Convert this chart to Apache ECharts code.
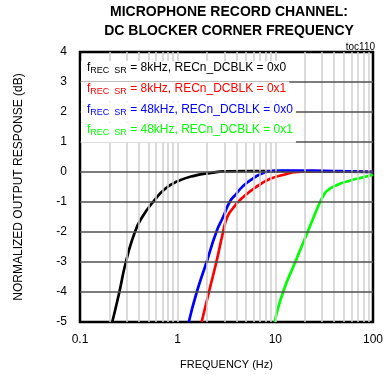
<!DOCTYPE html>
<html>
<head>
<meta charset="utf-8">
<script src="https://cdn.jsdelivr.net/npm/echarts@6/dist/echarts.min.js"></script>
<style>
html,body{margin:0;padding:0;background:#fff;}
#chart{width:386px;height:375px;}
</style>
</head>
<body>
<div id="chart"></div>
<script>
// ---- data ----
var seriesColors = ['#000000', '#ff0000', '#0000ff', '#00ff00'];
var sampleRates = ['8kHz', '8kHz', '48kHz', '48kHz'];
var dcblkValues = ['0x0', '0x1', '0x0', '0x1'];

var black8k0 = [[0.214,-5],[0.253,-4],[0.295,-3],[0.365,-2],[0.434,-1.5],[0.56,-1.0],[0.75,-0.55],[1.0,-0.31],[1.5,-0.12],[2.2,-0.03],[3.0,0.02],[5,0.03],[10,0.03],[30,0.02],[100,0]];
var red8k1 = [[1.76,-5],[2.09,-4],[2.49,-3],[2.92,-2],[3.22,-1.5],[3.7,-1.2],[4.3,-0.95],[5.0,-0.76],[5.63,-0.62],[7.1,-0.4],[9,-0.22],[12.2,-0.09],[16.7,0],[25,0.03],[50,0.02],[100,0]];
var blue48k0 = [[1.30,-5],[1.57,-4],[1.98,-3],[2.49,-2],[2.92,-1.5],[3.41,-1.0],[3.9,-0.76],[4.64,-0.48],[5.63,-0.26],[7.1,-0.07],[9,0.03],[12,0.05],[30,0.04],[60,0.02],[100,0]];
var green48k1 = [[9.85,-5],[12.0,-4],[16.0,-3],[21.4,-2],[28.7,-1],[31,-0.8],[33.5,-0.64],[42.3,-0.44],[57.7,-0.29],[78.7,-0.18],[100,-0.09]];
var seriesData = [black8k0, red8k1, blue48k0, green48k1];

var xMin = 0.1, xMax = 100;
var yMin = -5, yMax = 4, yStep = 1;
var xMinorGrid = [0.2,0.3,0.4,0.5,0.6,0.7,0.8,0.9,1,2,3,4,5,6,7,8,9,10,20,30,40,50,60,70,80,90];
var yGrid = [-4,-3,-2,-1,0,1,2,3];

var titleText = 'MICROPHONE RECORD CHANNEL:\nDC BLOCKER CORNER FREQUENCY';
var xName = 'FREQUENCY (Hz)';
var yName = 'NORMALIZED OUTPUT RESPONSE (dB)';
var tocLabel = 'toc110';

// ---- chart ----
var FONT = '"Liberation Sans", Arial, sans-serif';
var names = sampleRates.map(function (r, i) {
  return 'fREC SR = ' + r + ', RECn_DCBLK = ' + dcblkValues[i];
});

var series = [
  {
    type: 'line', name: 'vgrid', data: [], silent: true, z: 1,
    markLine: {
      silent: true, symbol: ['none', 'none'], animation: false,
      label: { show: false },
      lineStyle: { color: '#cfcfcf', width: 1.5, type: 'solid' },
      emphasis: { disabled: true },
      data: xMinorGrid.map(function (v) { return { xAxis: v }; })
    }
  },
  {
    type: 'line', name: 'hgrid', data: [], silent: true, z: 1,
    markLine: {
      silent: true, symbol: ['none', 'none'], animation: false,
      label: { show: false },
      lineStyle: { color: '#505050', width: 1.5, type: 'solid' },
      emphasis: { disabled: true },
      data: yGrid.map(function (v) { return { yAxis: v }; })
    }
  }
];
seriesData.forEach(function (d, i) {
  series.push({
    type: 'line', name: names[i], data: d, smooth: 0.55,
    showSymbol: false, symbol: 'none', z: 3,
    lineStyle: { color: seriesColors[i], width: 2.7 },
    itemStyle: { color: seriesColors[i] },
    emphasis: { disabled: true }
  });
});

var legendGraphics = names.map(function (n, i) {
  var rich = {
    m: { fill: seriesColors[i], fontSize: 12, fontFamily: FONT, lineHeight: 14 },
    s: { fill: seriesColors[i], fontSize: 9, fontFamily: FONT, lineHeight: 14, height: 8, verticalAlign: 'bottom' }
  };
  return {
    type: 'text', x: 81, y: 61 + 20.6 * i, z: 10,
    style: {
      text: '{m|f}{s|REC  SR}{m| = ' + sampleRates[i] + ', RECn_DCBLK = ' + dcblkValues[i] + '}',
      rich: rich, fill: seriesColors[i],
      backgroundColor: '#ffffff', padding: [0, 3, 6, 6],
      align: 'left', verticalAlign: 'top'
    }
  };
});

var chart = echarts.init(document.getElementById('chart'), null, { renderer: 'canvas' });
chart.setOption({
  animation: false,
  backgroundColor: '#ffffff',
  grid: {
    left: 80, right: 8, top: 52, bottom: 53,
    show: true, borderColor: '#000', borderWidth: 2.5, backgroundColor: 'transparent'
  },
  xAxis: {
    type: 'log', logBase: 10, min: xMin, max: xMax,
    name: xName, nameLocation: 'middle', nameGap: 37,
    nameTextStyle: { fontSize: 11, fontFamily: FONT, color: '#000' },
    axisLine: { show: false }, axisTick: { show: false },
    splitLine: { show: false },
    axisLabel: { fontSize: 12, fontFamily: FONT, color: '#000', margin: 12,
      formatter: function (v) { return String(v); } }
  },
  yAxis: {
    type: 'value', min: yMin, max: yMax, interval: yStep,
    name: yName, nameLocation: 'middle', nameGap: 55,
    nameTextStyle: { fontSize: 12, fontFamily: FONT, color: '#000' },
    axisLine: { show: false }, axisTick: { show: false },
    splitLine: { show: false },
    axisLabel: { fontSize: 12, fontFamily: FONT, color: '#000', margin: 13 }
  },
  graphic: [
    { type: 'text', x: 229, y: 3, z: 10,
      style: { text: titleText, align: 'center', verticalAlign: 'top',
        font: 'bold 14px ' + FONT, lineHeight: 19, fill: '#000' } },
    { type: 'text', x: 375, y: 47, z: 10,
      style: { text: tocLabel, align: 'right', verticalAlign: 'middle',
        font: '10px ' + FONT, fill: '#000' } }
  ].concat(legendGraphics),
  series: series
});
</script>
</body>
</html>
